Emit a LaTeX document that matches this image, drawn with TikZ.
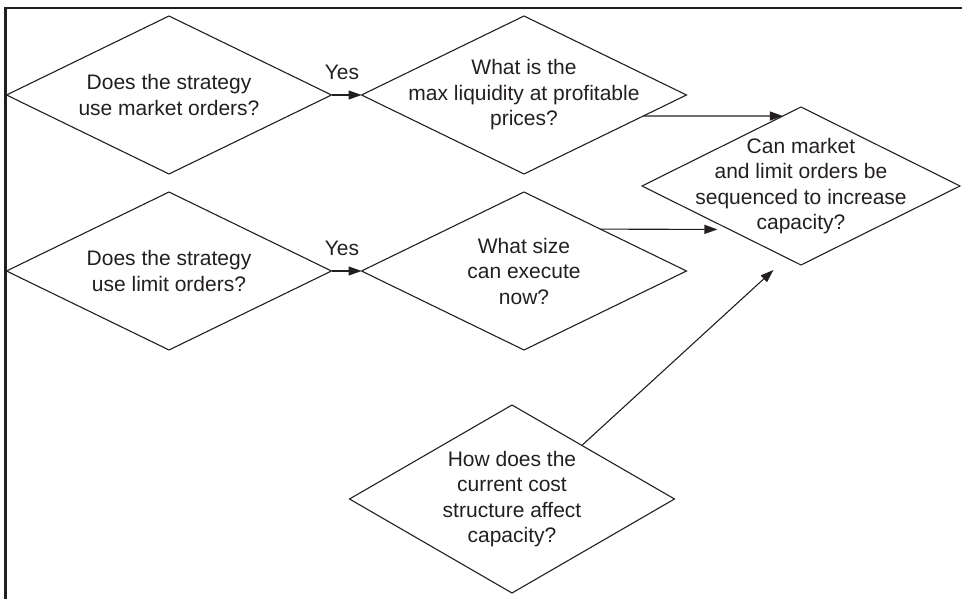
\documentclass[tikz,border=0pt]{standalone}
\usepackage{fontspec}
\setmainfont{Liberation Sans}
\usetikzlibrary{shapes.geometric,arrows.meta,calc}
\definecolor{inkc}{HTML}{231F20}
\begin{document}
\begin{tikzpicture}[x=1pt,y=-1pt,
  dia/.style={shape=diamond, draw=inkc, line width=1.1pt, inner sep=0pt, outer sep=0pt},
  txt/.style={align=center, font=\fontsize{21}{25.5}\selectfont, text=inkc, inner sep=0pt},
  arr/.style={draw=inkc, line width=1.1pt, -{Triangle[length=13pt,width=9pt]}}]
\useasboundingbox (0,0) rectangle (962,599);
\draw[draw=inkc, line width=2.6pt, line join=miter] (5.3,599) -- (5.3,8) -- (962,8);

\node[dia, minimum width=325pt, minimum height=158pt] (A) at (169,95) {};
\node[txt] (At) at (A.center) {Does the strategy\\use market orders?};
\node[dia, minimum width=325pt, minimum height=158pt] (B) at (524,95) {};
\node[txt] (Bt) at (B.center) {What is the\\max liquidity at profitable\\prices?};
\node[dia, minimum width=318pt, minimum height=158pt] (C) at (801,186) {};
\node[txt] (Ct) at (C.center) {Can market\\and limit orders be\\sequenced to increase\\capacity?};
\node[dia, minimum width=325pt, minimum height=158pt] (D) at (169,271) {};
\node[txt] (Dt) at (D.center) {Does the strategy\\use limit orders?};
\node[dia, minimum width=325pt, minimum height=158pt] (E) at (524,271) {};
\node[txt] (Et) at (E.center) {What size\\can execute\\now?};
\node[dia, minimum width=325pt, minimum height=188pt] (F) at (512,499) {};
\node[txt] (Ft) at (F.center) {How does the\\current cost\\structure affect\\capacity?};

\node[txt] (Y1) at (342,72) {Yes};
\node[txt] (Y2) at (342,248) {Yes};

\draw[arr] (A.east) -- (B.west);
\draw[arr] (D.east) -- (E.west);
\draw[arr] ($(B.east)!0.266!(B.south)$) -- ($(C.west)!0.886!(C.north)$);
\draw[arr, shorten >=12pt] ($(E.east)!0.53!(E.north)$) -- ($(C.west)!0.55!(C.south)$);
\draw[arr, shorten >=18pt] ($(F.north)!0.43!(F.east)$) -- ($(C.west)!0.91!(C.south)$);
\end{tikzpicture}
\end{document}
